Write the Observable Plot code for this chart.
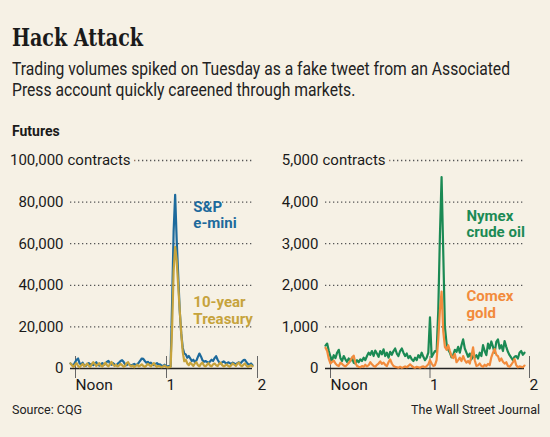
<!DOCTYPE html>
<html>
<head>
<meta charset="utf-8">
<script src="https://cdn.jsdelivr.net/npm/d3@7"></script>
<script src="https://cdn.jsdelivr.net/npm/@observablehq/plot@0.6"></script>
<style>
  html, body { margin: 0; padding: 0; }
  body { width: 550px; height: 437px; background: #f6f1e5; position: relative; overflow: hidden;
         font-family: Roboto, sans-serif; color: #1a1a1a; }
  .abs { position: absolute; white-space: nowrap; transform-origin: 0 0; }
  #title { left: 12px; top: 23px; font-family: "DejaVu Serif Condensed", "DejaVu Serif", serif; font-stretch: condensed;
           font-weight: bold; font-size: 25px; line-height: 30px; }
  #sub { left: 12px; top: 59px; font-size: 17.5px; line-height: 21px; color: #222; }
  #fut { left: 12px; top: 123px; font-size: 14px; font-weight: bold; line-height: 16px; }
  #src { left: 12px; top: 403px; font-size: 12.5px; line-height: 14px; color: #222; }
  #wsj { right: 10px; top: 403px; font-size: 12.5px; line-height: 14px; color: #222; }
  #left { left: 0px; top: 140px; }
  #right { left: 275px; top: 140px; }
</style>
</head>
<body>
<div id="title" class="abs">Hack Attack</div>
<div id="sub" class="abs">Trading volumes spiked on Tuesday as a fake tweet from an Associated<br>Press account quickly careened through markets.</div>
<div id="fut" class="abs">Futures</div>
<div id="left" class="abs"></div>
<div id="right" class="abs"></div>
<div id="src" class="abs">Source: CQG</div>
<div id="wsj" class="abs">The Wall Street Journal</div>
<script>
// minutes after noon, one reading per minute (noon to 2 p.m.)
const minutes = d3.range(0, 121);
const xTickValues = [0, 60, 120];
const xTickLabels = ["Noon", "1", "2"];

// S&P e-mini futures, contracts per minute
const spEmini = [
  2400, 1800, 1500, 3000, 4200, 4800, 2500, 1800, 2800, 1500,
  1200, 2000, 2600, 1800, 2200, 1600, 2400, 3000, 1800, 1400,
  2000, 2600, 1800, 2200, 3200, 3700, 2400, 1800, 2600, 2000,
  1500, 2200, 2800, 3600, 4000, 3200, 2000, 1600, 2400, 1800,
  1400, 1800, 2200, 1600, 2000, 2800, 3800, 4800, 4600, 3600,
  2800, 3200, 2400, 2800, 2000, 1600, 2200, 2600, 1800, 2000,
  1400, 1200, 1800, 1100, 1000, 1200, 1000, 32000, 66000, 83500,
  62000, 45000, 28000, 17000, 10000, 7200, 6800, 5200, 6000, 4800,
  3600, 4200, 3000, 3800, 5600, 7200, 5800, 4000, 3200, 3600,
  3200, 2600, 3400, 4200, 3600, 5000, 5900, 4200, 3000, 2400,
  3000, 3400, 2800, 2400, 3000, 2600, 2200, 2800, 2400, 2000,
  2600, 3000, 2400, 3200, 4000, 4200, 3000, 2200, 1800, 2400,
  1600
];
// 10-year Treasury futures
const treasury10 = [
  2500, 1500, 800, 1800, 2600, 1200, 600, 1400, 2200, 1000,
  1600, 2400, 1400, 800, 2000, 3000, 2200, 1200, 1800, 2600,
  1400, 900, 1800, 2800, 1600, 1000, 2000, 3200, 1800, 1200,
  1800, 1000, 1400, 2200, 1600, 800, 1200, 2600, 3000, 1600,
  1000, 1400, 600, 1200, 1800, 1000, 1400, 2000, 1200, 800,
  1400, 2200, 1600, 1000, 1800, 2600, 1400, 800, 1200, 1000,
  600, 900, 1400, 800, 500, 700, 800, 20000, 47000, 58500,
  52000, 40000, 28000, 17000, 8000, 3500, 4200, 2400, 1600, 2800,
  2000, 1200, 2400, 3000, 1600, 1000, 2200, 2800, 1400, 1000,
  1800, 2600, 1400, 1000, 2000, 2400, 1600, 1200, 2200, 2800,
  1600, 1000, 1400, 2000, 1200, 800, 1600, 2400, 1800, 1200,
  2200, 2800, 1600, 1000, 1800, 2400, 1400, 800, 1200, 1600,
  1000
];
// Nymex crude oil futures
const nymexCrude = [
  550, 600, 420, 280, 200, 320, 250, 380, 450, 250,
  180, 300, 220, 160, 240, 180, 260, 140, 120, 200,
  150, 220, 180, 260, 200, 300, 380, 330, 420, 300,
  430, 360, 280, 420, 340, 460, 300, 380, 260, 400,
  330, 420, 480, 360, 300, 420, 480, 380, 300, 360,
  250, 300, 220, 180, 260, 200, 320, 260, 380, 280,
  200, 260, 380, 1230, 280, 350, 420, 400, 1400, 3200,
  4600, 2800, 1000, 600, 450, 380, 270, 320, 450, 400,
  520, 380, 560, 700, 480, 380, 280, 360, 220, 300,
  260, 320, 240, 380, 300, 560, 420, 320, 600, 480,
  650, 520, 380, 640, 700, 480, 560, 420, 660, 520,
  400, 320, 260, 200, 280, 300, 240, 380, 420, 330,
  380
];
// Comex gold futures
const comexGold = [
  500, 420, 230, 120, 160, 190, 120, 80, 60, 140,
  110, 70, 50, 90, 130, 190, 260, 310, 140, 60,
  40, 30, 60, 40, 90, 50, 80, 150, 100, 60,
  40, 90, 120, 170, 110, 140, 90, 60, 150, 220,
  120, 60, 40, 30, 20, 40, 20, 30, 50, 30,
  60, 100, 60, 30, 20, 40, 30, 20, 40, 50,
  30, 60, 100, 200, 120, 60, 80, 200, 700, 1400,
  1850, 900, 520, 450, 560, 420, 300, 250, 350, 150,
  200, 260, 180, 300, 200, 140, 180, 120, 300, 510,
  200, 60, 80, 120, 60, 40, 90, 60, 110, 80,
  270, 380, 470, 330, 300, 180, 240, 160, 120, 150,
  60, 40, 90, 150, 230, 80, 30, 50, 40, 30,
  70
];

const leftYTicks = [0, 20000, 40000, 60000, 80000, 100000];
const rightYTicks = [0, 1000, 2000, 3000, 4000, 5000];
const unitLabel = "contracts";

const leftSeries = [
  {name: "S&P\ne-mini", values: spEmini, color: "#1d6a9c", labelAt: [81, 74000]},
  {name: "10-year\nTreasury", values: treasury10, color: "#c6a33c", labelAt: [81, 27900]}
];
const rightSeries = [
  {name: "Nymex\ncrude oil", values: nymexCrude, color: "#1b8a54", labelAt: [85, 3480]},
  {name: "Comex\ngold", values: comexGold, color: "#f28b3c", labelAt: [85, 1540]}
];

const BG = "#f6f1e5";
const FONT = 'Roboto, sans-serif';

function fitWidth(el, target) {
  const w = el.getBoundingClientRect().width;
  el.style.transform = `scaleX(${target / w})`;
}
// the reference uses condensed faces; squeeze to the same measure
(function () {
  const t = document.getElementById("title");
  fitWidth(t, 131);
  const s = document.getElementById("sub");
  const probe = document.createElement("span");
  probe.textContent = "Trading volumes spiked on Tuesday as a fake tweet from an Associated";
  probe.style.cssText = "position:absolute;visibility:hidden;white-space:nowrap;font-size:17.5px;font-family:Roboto";
  document.body.appendChild(probe);
  const w = probe.getBoundingClientRect().width;
  probe.remove();
  s.style.transform = `scaleX(${498 / w})`;
})();

function panel(series, yTicks, marginLeft, marginRight) {
  const top = yTicks[yTicks.length - 1];
  const marks = [
    Plot.ruleY(yTicks.filter(d => d > 0), {stroke: "#555", strokeWidth: 1.3, strokeDasharray: "1.3,2.7"}),
    Plot.text([top], {y: d => d, frameAnchor: "left", text: () => unitLabel, textAnchor: "start", dx: -3,
      fontSize: 15, fill: "#1a1a1a", stroke: BG, strokeWidth: 9, paintOrder: "stroke"}),
    Plot.axisY({ticks: yTicks, tickSize: 0, tickPadding: 7, tickFormat: d3.format(","), fontSize: 15,
      fill: "#1a1a1a", label: null}),
    Plot.axisX({ticks: xTickValues, tickSize: 22, tickPadding: 0, tickFormat: (d, i) => xTickLabels[i],
      textAnchor: "start", dx: 5, dy: -12, fontSize: 15.5, fill: "#1a1a1a", stroke: "#666", label: null}),
    Plot.ruleY([0], {stroke: "#222", strokeWidth: 1.6})
  ];
  for (const s of series) {
    marks.push(Plot.lineY(s.values, {x: (d, i) => minutes[i], y: d => d, stroke: s.color, strokeWidth: 2.2,
      strokeLinejoin: "round"}));
  }
  for (const s of series) {
    marks.push(Plot.text([s], {x: d => d.labelAt[0], y: d => d.labelAt[1], text: d => d.name,
      textAnchor: "start", lineAnchor: "middle", lineHeight: 1.1, fill: s.color, fontWeight: "bold", fontSize: 15}));
  }
  return Plot.plot({
    width: 275, height: 260,
    marginLeft, marginRight, marginTop: 20, marginBottom: 32,
    x: {domain: [0, 120]},
    y: {domain: [0, top]},
    style: {background: "transparent", fontFamily: FONT, overflow: "visible"},
    marks
  });
}

document.getElementById("left").appendChild(panel(leftSeries, leftYTicks, 70, 23));
document.getElementById("right").appendChild(panel(rightSeries, rightYTicks, 50, 26));
</script>
</body>
</html>
